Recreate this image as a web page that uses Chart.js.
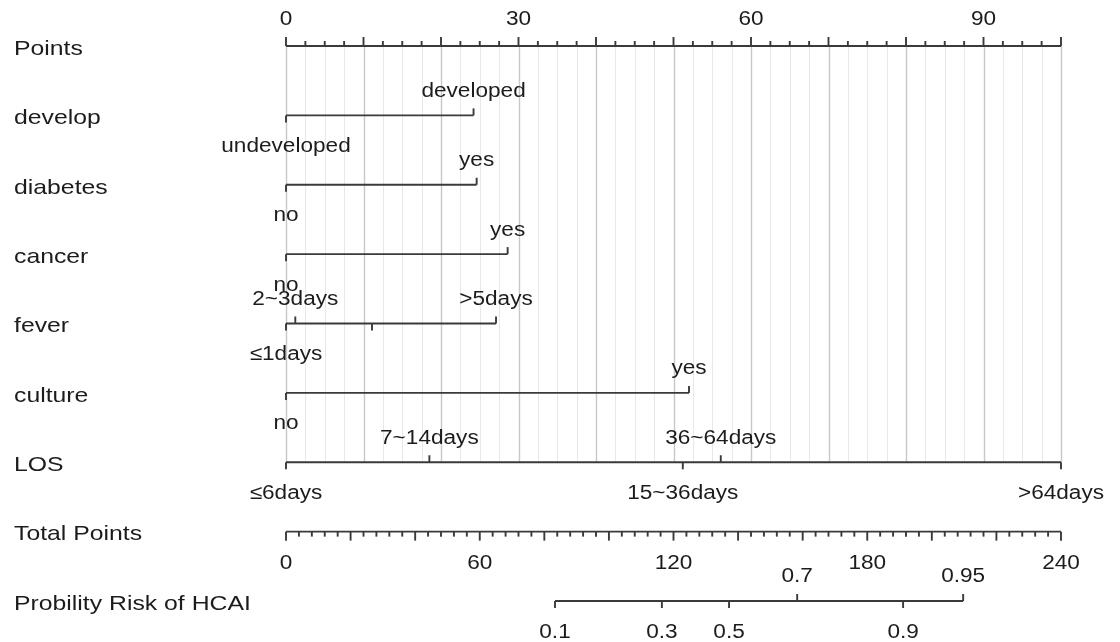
<!DOCTYPE html>
<html>
<head>
<meta charset="utf-8">
<script src="https://cdn.jsdelivr.net/npm/chart.js@4.4.1/dist/chart.umd.min.js"></script>
<style>
  html, body { margin: 0; padding: 0; background: #fff; }
  #wrap { width: 1120px; height: 642px; }
</style>
</head>
<body>
<div id="wrap"><canvas id="nomo"></canvas></div>
<script>
// Nomogram: HCAI risk.
const rowNames = ['Points', 'develop', 'diabetes', 'cancer', 'fever', 'culture', 'LOS',
                  'Total Points', 'Probility Risk of HCAI'];

const pointTicks = [0, 30, 60, 90];
const totalTicks = [0, 60, 120, 180, 240];

const developLabels = ['undeveloped', 'developed'];
const developPoints = [0, 24.2];
const diabetesLabels = ['no', 'yes'];
const diabetesPoints = [0, 24.6];
const cancerLabels = ['no', 'yes'];
const cancerPoints = [0, 28.6];
const feverLabels = ['\u22641days', '2~3days', '', '>5days'];   // 3rd level has no label in the figure
const feverPoints = [0, 1.2, 11.1, 27.1];
const cultureLabels = ['no', 'yes'];
const culturePoints = [0, 52.0];
const losLabels = ['\u22646days', '7~14days', '15~36days', '36~64days', '>64days'];
const losPoints = [0, 18.5, 51.2, 56.1, 100];

const probLabels = ['0.1', '0.3', '0.5', '0.7', '0.9', '0.95'];
const probTotals = [83.3, 116.4, 137.2, 158.3, 191.1, 209.7];

const factors = [
  { row: 1, labels: developLabels, pts: developPoints },
  { row: 2, labels: diabetesLabels, pts: diabetesPoints },
  { row: 3, labels: cancerLabels, pts: cancerPoints },
  { row: 4, labels: feverLabels, pts: feverPoints },
  { row: 5, labels: cultureLabels, pts: culturePoints },
  { row: 6, labels: losLabels, pts: losPoints },
];

// which probability labels sit above the line (the rest go below)
const probAbove = [false, false, false, true, false, true];

const INK = '#1c1c1c';
const LINE = '#3a3a3a';
const FONT = '"Liberation Sans", Arial, sans-serif';

function seg(row, lo, hi, axis) {
  return {
    data: [{ x: lo, y: row }, { x: hi, y: row }],
    xAxisID: axis || 'x',
    showLine: true,
    borderColor: LINE,
    borderWidth: 1.9,
    pointRadius: 0,
    clip: false,
  };
}

const datasets = [seg(0, 0, 100)];
factors.forEach(f => datasets.push(seg(f.row, Math.min(...f.pts), Math.max(...f.pts))));
datasets.push(seg(7, totalTicks[0], totalTicks[totalTicks.length - 1], 'xt'));
datasets.push(seg(8, probTotals[0], probTotals[probTotals.length - 1], 'xt'));

function txt(ctx, s, px, py, align, size, sx) {
  ctx.save();
  ctx.translate(px, py);
  ctx.scale(sx, 1);
  ctx.font = size + 'px ' + FONT;
  ctx.textAlign = align;
  ctx.textBaseline = 'middle';
  ctx.fillStyle = INK;
  ctx.fillText(s, 0, 0);
  ctx.restore();
}

function tick(ctx, px, py, len) {
  ctx.beginPath();
  ctx.moveTo(px, py);
  ctx.lineTo(px, py + len);
  ctx.stroke();
}

const nomoPlugin = {
  id: 'nomo',
  beforeDatasetsDraw(chart) {
    const { ctx, scales: { x, y } } = chart;
    const top = y.getPixelForValue(0), bot = y.getPixelForValue(6);
    ctx.save();
    for (let v = 0; v <= 100; v += 2.5) {
      const px = Math.round(x.getPixelForValue(v)) + 0.5;
      ctx.strokeStyle = v % 10 === 0 ? '#c8c8c8' : '#e8e8e8';
      ctx.lineWidth = v % 10 === 0 ? 1.4 : 1;
      ctx.beginPath();
      ctx.moveTo(px, top);
      ctx.lineTo(px, bot);
      ctx.stroke();
    }
    ctx.restore();
  },
  afterDatasetsDraw(chart) {
    const { ctx, scales: { x, xt, y } } = chart;
    ctx.save();
    ctx.strokeStyle = LINE;
    ctx.lineWidth = 1.9;

    // row names
    rowNames.forEach((n, i) => txt(ctx, n, 14, y.getPixelForValue(i) + 3, 'left', 21, 1.18));

    // Points axis
    const y0 = y.getPixelForValue(0);
    for (let v = 0; v <= 100; v += 2.5) tick(ctx, x.getPixelForValue(v), y0, v % 10 === 0 ? -9 : -5);
    pointTicks.forEach(v => txt(ctx, String(v), x.getPixelForValue(v), y0 - 27, 'center', 20, 1.13));

    // factor rows
    factors.forEach(f => {
      const py = y.getPixelForValue(f.row);
      f.pts.forEach((p, i) => {
        const px = x.getPixelForValue(p);
        const above = i % 2 === 1;
        tick(ctx, px, py, above ? -7 : 7);
        if (f.labels[i]) txt(ctx, f.labels[i], px, py + (above ? -24 : 31), 'center', 20, 1.13);
      });
    });

    // Total Points axis
    const y7 = y.getPixelForValue(7);
    for (let v = 0; v <= 240; v += 4) tick(ctx, xt.getPixelForValue(v), y7, v % 20 === 0 ? 9 : 5);
    totalTicks.forEach(v => txt(ctx, String(v), xt.getPixelForValue(v), y7 + 32, 'center', 20, 1.13));

    // probability axis
    const y8 = y.getPixelForValue(8);
    probTotals.forEach((t, i) => {
      const px = xt.getPixelForValue(t);
      tick(ctx, px, y8, probAbove[i] ? -7 : 7);
      txt(ctx, probLabels[i], px, y8 + (probAbove[i] ? -25 : 31), 'center', 20, 1.13);
    });
    ctx.restore();
  },
};

new Chart(document.getElementById('nomo'), {
  type: 'scatter',
  data: { datasets },
  plugins: [nomoPlugin],
  options: {
    responsive: true,
    maintainAspectRatio: false,
    animation: false,
    layout: { padding: { left: 286, right: 59, top: 46, bottom: 41 } },
    scales: {
      x: { type: 'linear', min: 0, max: 100, display: false },
      xt: { type: 'linear', min: 0, max: 240, display: false },
      y: { type: 'linear', min: 0, max: 8, reverse: true, display: false },
    },
    plugins: { legend: { display: false }, tooltip: { enabled: false } },
  },
});
</script>
</body>
</html>
